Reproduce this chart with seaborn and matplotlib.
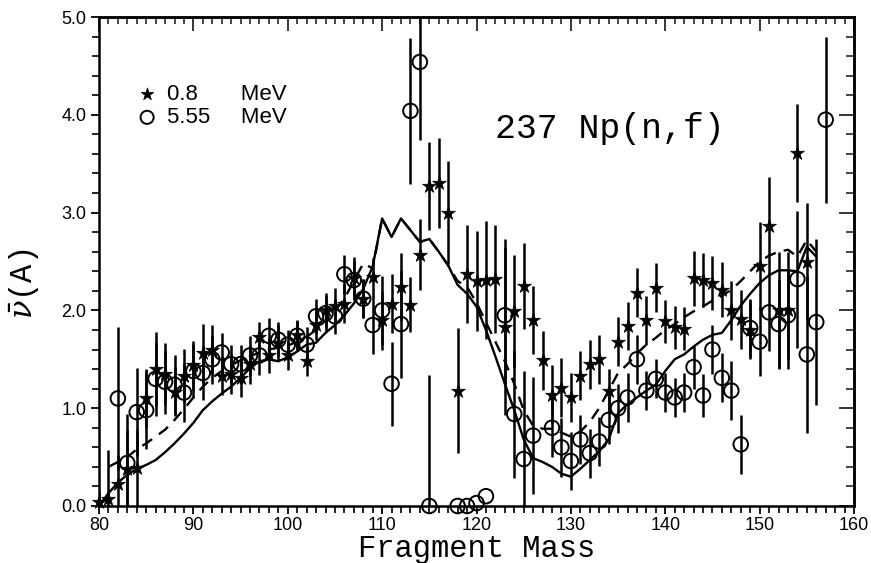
import numpy as np
import pandas as pd
import matplotlib
matplotlib.use("Agg")
import matplotlib.pyplot as plt
import seaborn as sns
from matplotlib.ticker import MultipleLocator, FormatStrFormatter

# ---- data ----
# 0.8 MeV (stars)
star_mass = [80, 81, 82, 83, 84, 85, 86, 87, 88, 89, 90, 91, 92, 93, 94, 95, 96, 97, 98, 99,
             100, 101, 102, 103, 104, 105, 106, 107, 108, 109, 110, 111, 112, 113, 114, 115,
             116, 117, 118, 119, 120, 121, 122, 123, 124, 125, 126, 127, 128, 129, 130, 131,
             132, 133, 134, 135, 136, 137, 138, 139, 140, 141, 142, 143, 144, 145, 146, 147,
             148, 149, 150, 151, 152, 153, 154, 155]
star_nu = [0.04, 0.07, 0.22, 0.38, 0.39, 1.10, 1.40, 1.35, 1.17, 1.33, 1.44, 1.56, 1.60, 1.33,
           1.35, 1.31, 1.45, 1.73, 1.54, 1.67, 1.54, 1.75, 1.48, 1.85, 2.00, 2.05, 2.07, 2.33,
           2.12, 2.34, 1.90, 2.07, 2.24, 2.06, 2.57, 3.27, 3.30, 3.00, 1.18, 2.37, 2.30, 2.31,
           2.32, 1.83, 1.99, 2.25, 1.90, 1.49, 1.14, 1.21, 1.11, 1.33, 1.45, 1.50, 1.18, 1.68,
           1.84, 2.18, 1.90, 2.23, 1.89, 1.83, 1.81, 2.33, 2.31, 2.28, 2.21, 2.00, 1.91, 1.80,
           2.45, 2.86, 2.00, 2.00, 3.61, 2.50]
star_err = [0.10, 0.50, 0.30, 0.40, 0.40, 0.30, 0.38, 0.32, 0.25, 0.28, 0.25, 0.30, 0.25, 0.20,
            0.20, 0.20, 0.20, 0.15, 0.18, 0.18, 0.15, 0.15, 0.15, 0.15, 0.18, 0.18, 0.20, 0.22,
            0.20, 0.20, 0.30, 0.30, 0.35, 0.28, 0.36, 0.45, 0.46, 0.53, 0.64, 0.50, 0.51, 0.60,
            0.55, 0.90, 0.58, 0.44, 0.35, 0.30, 0.30, 0.30, 0.25, 0.25, 0.25, 0.25, 0.22, 0.25,
            0.25, 0.25, 0.25, 0.25, 0.22, 0.22, 0.22, 0.28, 0.28, 0.28, 0.28, 0.30, 0.30, 0.30,
            0.45, 0.50, 0.60, 0.60, 0.50, 0.60]

# 5.55 MeV (open circles)
circ_mass = [82, 83, 84, 85, 86, 87, 88, 89, 90, 91, 92, 93, 94, 95, 96, 97, 98, 99, 100, 101,
             102, 103, 104, 105, 106, 107, 108, 109, 110, 111, 112, 113, 114, 115, 118, 119,
             120, 121, 123, 124, 125, 126, 128, 129, 130, 131, 132, 133, 134, 135, 136, 137,
             138, 139, 140, 141, 142, 143, 144, 145, 146, 147, 148, 149, 150, 151, 152, 153,
             154, 155, 156, 157]
circ_nu = [1.10, 0.44, 0.96, 0.98, 1.30, 1.27, 1.24, 1.16, 1.38, 1.36, 1.50, 1.57, 1.45, 1.45,
           1.54, 1.54, 1.74, 1.70, 1.65, 1.74, 1.65, 1.94, 1.97, 1.94, 2.37, 2.31, 2.12, 1.85,
           2.00, 1.25, 1.86, 4.04, 4.54, 0.00, 0.00, 0.00, 0.03, 0.10, 1.95, 0.94, 0.48, 0.72,
           0.80, 0.60, 0.46, 0.68, 0.54, 0.66, 0.88, 1.00, 1.11, 1.50, 1.18, 1.30, 1.16, 1.11,
           1.16, 1.42, 1.13, 1.60, 1.31, 1.18, 0.63, 1.82, 1.68, 1.98, 1.86, 1.95, 2.32, 1.55,
           1.88, 3.95]
circ_err = [0.73, 0.50, 0.45, 0.40, 0.38, 0.33, 0.30, 0.30, 0.28, 0.28, 0.25, 0.20, 0.20, 0.20,
            0.20, 0.20, 0.18, 0.18, 0.15, 0.15, 0.18, 0.18, 0.18, 0.18, 0.20, 0.20, 0.20, 0.30,
            0.35, 0.43, 0.55, 0.75, 0.80, 1.34, 0.00, 0.00, 0.00, 0.00, 0.70, 0.65, 0.90, 0.60,
            0.30, 0.30, 0.30, 0.25, 0.25, 0.25, 0.25, 0.25, 0.25, 0.25, 0.20, 0.20, 0.20, 0.20,
            0.20, 0.22, 0.22, 0.25, 0.25, 0.30, 0.30, 0.30, 0.35, 0.40, 0.45, 0.45, 0.70, 0.80,
            0.85, 0.85]

# calculations
calc_mass = list(range(80, 157))
calc_solid = [0.00, 0.13, 0.24, 0.32, 0.38, 0.42, 0.47, 0.55, 0.64, 0.74, 0.85, 0.98, 1.07,
              1.15, 1.22, 1.31, 1.41, 1.48, 1.50, 1.48, 1.52, 1.58, 1.65, 1.67, 1.77, 1.85,
              1.95, 2.07, 2.22, 2.45, 2.94, 2.75, 2.94, 2.82, 2.70, 2.73, 2.60, 2.46, 2.26,
              2.17, 2.04, 1.80, 1.53, 1.25, 0.98, 0.68, 0.49, 0.45, 0.40, 0.33, 0.30, 0.38,
              0.47, 0.56, 0.68, 0.95, 1.04, 1.11, 1.18, 1.24, 1.38, 1.50, 1.55, 1.63, 1.70,
              1.75, 1.77, 1.90, 2.05, 2.17, 2.28, 2.36, 2.41, 2.41, 2.40, 2.65, 2.55]
dash_mass = list(range(81, 157))
calc_dash = [0.40, 0.45, 0.50, 0.58, 0.64, 0.71, 0.78, 0.88, 0.99, 1.11, 1.22, 1.31, 1.38,
             1.44, 1.49, 1.53, 1.57, 1.60, 1.62, 1.64, 1.68, 1.73, 1.80, 1.90, 2.00, 2.12,
             2.30, 2.48, 2.43, 2.94, 2.75, 2.94, 2.82, 2.70, 2.73, 2.60, 2.46, 2.30, 2.24,
             2.08, 1.88, 1.68, 1.48, 1.25, 0.98, 0.82, 0.79, 0.79, 0.75, 0.71, 0.76, 0.86,
             1.00, 1.18, 1.36, 1.45, 1.56, 1.65, 1.72, 1.80, 1.86, 1.93, 1.99, 2.04, 2.10,
             2.15, 2.21, 2.30, 2.40, 2.50, 2.56, 2.60, 2.62, 2.55, 2.72, 2.60]

stars = pd.DataFrame({"A": star_mass, "nu": star_nu, "err": star_err})
circs = pd.DataFrame({"A": circ_mass, "nu": circ_nu, "err": circ_err})
solid = pd.DataFrame({"A": calc_mass, "nu": calc_solid})
dashed = pd.DataFrame({"A": dash_mass, "nu": calc_dash})

sns.set_theme(style="ticks")
plt.rcParams["font.family"] = ["Liberation Sans", "DejaVu Sans"]
plt.rcParams["mathtext.fontset"] = "dejavuserif"
plt.rcParams["text.color"] = "black"
plt.rcParams["axes.labelcolor"] = "black"

fig = plt.figure(figsize=(8.71, 5.63), dpi=100)
ax = fig.add_axes([99 / 871, 1 - 506 / 563, 755 / 871, 489 / 563])

sns.lineplot(data=solid, x="A", y="nu", ax=ax, color="black", linewidth=1.7, legend=False)
sns.lineplot(data=dashed, x="A", y="nu", ax=ax, color="black", linewidth=1.7,
             dashes=False, legend=False)
ax.lines[-1].set_dashes([5, 3.5])

ax.errorbar(stars["A"], stars["nu"], yerr=stars["err"], fmt="none", ecolor="black",
            elinewidth=1.8, capsize=0)
ax.errorbar(circs["A"], circs["nu"], yerr=circs["err"], fmt="none", ecolor="black",
            elinewidth=1.8, capsize=0)

sns.scatterplot(data=stars, x="A", y="nu", ax=ax, marker="*", s=110, color="black",
                edgecolor="black", linewidth=0.5, clip_on=False, zorder=4, label="0.8       MeV")
sns.scatterplot(data=circs, x="A", y="nu", ax=ax, marker="o", s=110, facecolors="none",
                edgecolors="black", linewidth=1.4, clip_on=False, zorder=4, label="5.55     MeV")

ax.set_xlim(80, 160)
ax.set_ylim(0, 5.0)

ax.xaxis.set_major_locator(MultipleLocator(10))
ax.xaxis.set_minor_locator(MultipleLocator(1))
ax.yaxis.set_major_locator(MultipleLocator(1.0))
ax.yaxis.set_minor_locator(MultipleLocator(0.2))
ax.yaxis.set_major_formatter(FormatStrFormatter("%.1f"))
ax.tick_params(axis="both", which="both", direction="out", colors="black", labelsize=13)
ax.tick_params(axis="both", which="major", length=6, width=1.3, pad=3)
ax.tick_params(axis="x", which="major", pad=2)
ax.tick_params(axis="both", which="minor", length=5, width=1.2)

# top and right ticks point inward
top = ax.secondary_xaxis("top")
top.xaxis.set_major_locator(MultipleLocator(10))
top.xaxis.set_minor_locator(MultipleLocator(1))
top.tick_params(which="major", direction="in", length=10, width=1.3, labeltop=False)
top.tick_params(which="minor", direction="in", length=5, width=1.2)
right = ax.secondary_yaxis("right")
right.yaxis.set_major_locator(MultipleLocator(1.0))
right.yaxis.set_minor_locator(MultipleLocator(0.2))
right.tick_params(which="major", direction="in", length=11, width=1.3, labelright=False)
right.tick_params(which="minor", direction="in", length=6, width=1.2)
for a in (ax, top, right):
    for sp in a.spines.values():
        sp.set_linewidth(1.8)
        sp.set_color("black")

ax.set_xlabel("Fragment Mass", family="Liberation Mono", fontsize=22, labelpad=0,
              color="black")
ax.set_ylabel(r"$\bar{\nu}$(A)", family="Liberation Mono", fontsize=22, color="black")
ax.yaxis.set_label_coords(-0.077, 0.455)

ax.text(0.524, 0.752, "237 Np(n,f)", transform=ax.transAxes, family="Liberation Mono",
        fontsize=25, va="baseline", ha="left", color="black")

leg = ax.legend(loc="upper left", bbox_to_anchor=(0.049, 0.864), frameon=False, fontsize=16,
                handlelength=1.0, handletextpad=0.4, labelspacing=0.12, borderpad=0,
                borderaxespad=0, markerscale=0.9, labelcolor="black")

fig.savefig("out.png", dpi=100)
